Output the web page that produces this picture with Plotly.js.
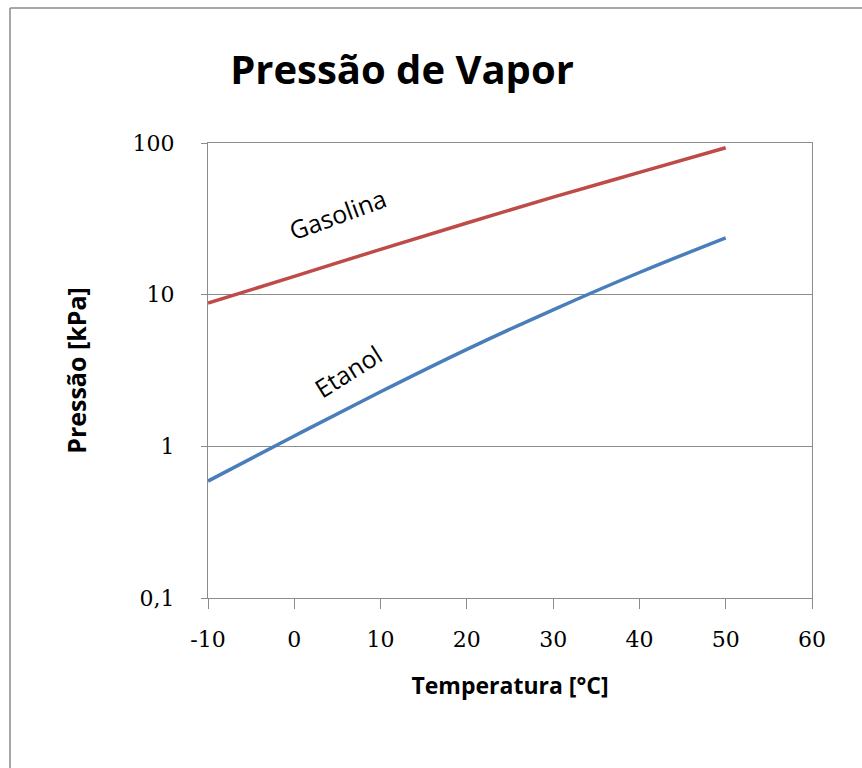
<!DOCTYPE html>
<html>
<head>
<meta charset="utf-8">
<script src="https://cdn.plot.ly/plotly-3.0.1.min.js"></script>
<style>html,body{margin:0;padding:0;background:#fff;}#chart{width:862px;height:768px;}</style>
</head>
<body>
<div id="chart"></div>
<script>
// Data
const temperatura = [-10, 0, 10, 20, 30, 40, 50];
const gasolina = [8.8, 13.2, 19.9, 29.7, 44, 64, 93];
const etanol = [0.59, 1.17, 2.29, 4.36, 7.95, 14, 23.7];
const yTickVals = [0.1, 1, 10, 100];
const yTickText = ['0,1', '1', '10', '100'];
const xTickVals = [-10, 0, 10, 20, 30, 40, 50, 60];

const gridCol = '#8c8c8c';
const tickFont = {family: 'DejaVu Serif, serif', size: 22, color: '#000'};
const titleFontFamily = 'Open Sans, Noto Sans, sans-serif';

const traces = [
  {x: temperatura, y: gasolina, mode: 'lines', name: 'Gasolina',
   line: {color: '#BE4B48', width: 3.5, shape: 'spline', smoothing: 1}, hoverinfo: 'skip'},
  {x: temperatura, y: etanol, mode: 'lines', name: 'Etanol',
   line: {color: '#4A7EBB', width: 3.5, shape: 'spline', smoothing: 1}, hoverinfo: 'skip'}
];

const L = 208, R = 812, T = 143, B = 598;
const W = 862, H = 768;
const pw = R - L, ph = B - T;
function px2paperX(p){ return (p - L) / pw; }
function px2paperY(p){ return (B - p) / ph; }

const layout = {
  width: W, height: H,
  margin: {l: L, r: W - R, t: T, b: H - B, pad: 0},
  paper_bgcolor: '#fff', plot_bgcolor: '#fff',
  showlegend: false,
  title: {text: 'Pressão de Vapor', font: {family: titleFontFamily, size: 40, color: '#000', weight: 'bold'},
          x: px2paperX(402), xref: 'paper', xanchor: 'center', y: 1 - 70 / H, yanchor: 'middle'},
  xaxis: {
    range: [-10, 60], tickvals: xTickVals, ticktext: xTickVals.map(String),
    ticks: 'outside', ticklen: 10, tickcolor: gridCol, tickwidth: 1,
    showline: true, linecolor: gridCol, linewidth: 1, mirror: true,
    showgrid: false, zeroline: false, tickfont: tickFont, ticklabelstandoff: 12,
    title: {text: 'Temperatura [°C]', font: {family: titleFontFamily, size: 23, color: '#000', weight: 'bold'}, standoff: 26}
  },
  yaxis: {
    type: 'log', range: [-1, 2], tickvals: yTickVals, ticktext: yTickText,
    ticks: 'outside', ticklen: 6, tickcolor: gridCol, tickwidth: 1,
    showline: true, linecolor: gridCol, linewidth: 1, mirror: true,
    showgrid: true, gridcolor: gridCol, gridwidth: 1, zeroline: false,
    tickfont: tickFont, ticklabelstandoff: 22,
    title: {text: 'Pressão [kPa]', font: {family: titleFontFamily, size: 25, color: '#000', weight: 'bold'}, standoff: 38}
  },
  annotations: [
    {x: 5.0, y: 1.535, xref: 'x', yref: 'y', text: 'Gasolina', showarrow: false,
     textangle: -20, font: {family: titleFontFamily, size: 25, color: '#000'}},
    {x: 6.2, y: 0.50, xref: 'x', yref: 'y', text: 'Etanol', showarrow: false,
     textangle: -32, font: {family: titleFontFamily, size: 25, color: '#000'}}
  ],
  shapes: [
    {type: 'line', xref: 'paper', yref: 'paper', layer: 'below',
     x0: px2paperX(10), x1: px2paperX(10), y0: px2paperY(H + 60), y1: px2paperY(8),
     line: {color: '#8a8a8a', width: 1.5}},
    {type: 'line', xref: 'paper', yref: 'paper', layer: 'below',
     x0: px2paperX(10), x1: px2paperX(W + 60), y0: px2paperY(8), y1: px2paperY(8),
     line: {color: '#8a8a8a', width: 1.5}}
  ]
};

Plotly.newPlot('chart', traces, layout, {displayModeBar: false, staticPlot: true});
</script>
</body>
</html>
